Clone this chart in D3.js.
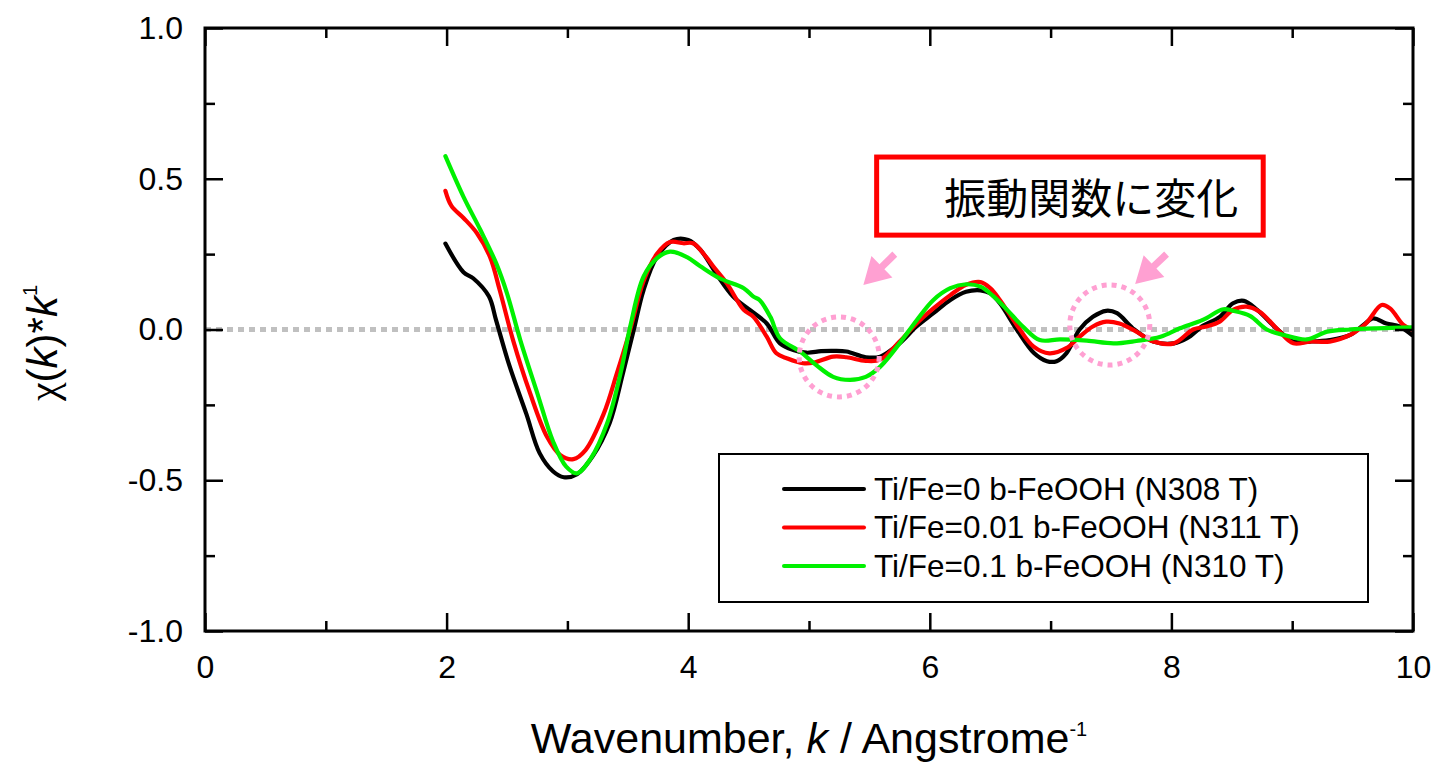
<!DOCTYPE html>
<html>
<head>
<meta charset="utf-8">
<script src="https://cdn.jsdelivr.net/npm/d3@7"></script>
<style>
  body { margin: 0; background: #fff; }
  svg { display: block; font-family: "Liberation Sans", Arial, sans-serif; }
</style>
</head>
<body>
<div id="chart"></div>
<script>
// data (k in 1/Angstrom, chi(k)*k)
var kBlack = [1.99, 2.14, 2.22, 2.35, 2.41, 2.52, 2.66, 2.77, 2.88, 2.97, 3.08, 3.21, 3.35, 3.46, 3.55, 3.63, 3.74, 3.88, 4.0,
  4.10, 4.24, 4.37, 4.51, 4.65, 4.76, 4.87, 4.98, 5.10, 5.20, 5.31, 5.47, 5.59, 5.75, 5.89, 6.03, 6.17, 6.30, 6.42, 6.50,
  6.58, 6.72, 6.86, 6.97, 7.05, 7.13, 7.24, 7.35, 7.46, 7.55, 7.68, 7.85, 8.02, 8.13, 8.26, 8.40, 8.51, 8.60, 8.71, 8.88,
  9.01, 9.15, 9.31, 9.48, 9.59, 9.67, 9.78, 9.89, 9.99];
var chiBlack = [0.285, 0.19, 0.17, 0.11, 0.03, -0.12, -0.28, -0.41, -0.47, -0.49, -0.48, -0.42, -0.31, -0.145, 0.0, 0.13, 0.24, 0.297, 0.297,
  0.265, 0.18, 0.11, 0.065, 0.02, -0.046, -0.068, -0.077, -0.072, -0.071, -0.073, -0.092, -0.09, -0.046, 0.01, 0.054, 0.098, 0.125, 0.13, 0.12,
  0.087, 0.0, -0.077, -0.105, -0.105, -0.079, 0.0, 0.042, 0.062, 0.054, 0.004, -0.04, -0.046, -0.029, 0.012, 0.042, 0.087, 0.095, 0.065, 0.0,
  -0.04, -0.04, -0.035, -0.018, 0.015, 0.037, 0.02, 0.01, -0.018];

var kRed = [1.99, 2.04, 2.14, 2.25, 2.36, 2.44, 2.55, 2.69, 2.83, 2.94, 3.05, 3.15, 3.30, 3.41, 3.52, 3.63, 3.74, 3.85, 3.96, 4.04,
  4.15, 4.21, 4.32, 4.46, 4.54, 4.65, 4.73, 4.82, 4.95, 5.04, 5.20, 5.31, 5.47, 5.59, 5.75, 5.89, 6.03, 6.17, 6.30, 6.42, 6.50,
  6.58, 6.72, 6.86, 6.99, 7.13, 7.24, 7.35, 7.46, 7.57, 7.71, 7.85, 8.02, 8.18, 8.29, 8.40, 8.51, 8.62, 8.73, 8.88,
  9.01, 9.15, 9.31, 9.48, 9.61, 9.74, 9.81, 9.92, 9.99];
var chiRed = [0.46, 0.41, 0.37, 0.32, 0.24, 0.13, -0.035, -0.21, -0.355, -0.416, -0.43, -0.40, -0.28, -0.145, 0.0, 0.16, 0.25, 0.29, 0.286, 0.286,
  0.24, 0.208, 0.153, 0.065, 0.042, -0.024, -0.079, -0.096, -0.112, -0.11, -0.09, -0.092, -0.104, -0.10, -0.04, 0.02, 0.07, 0.114, 0.148, 0.157, 0.137,
  0.098, 0.015, -0.057, -0.079, -0.062, -0.024, 0.01, 0.026, 0.02, -0.007, -0.04, -0.046, 0.0, 0.01, 0.026, 0.065, 0.076, 0.059, 0.0,
  -0.046, -0.04, -0.04, -0.018, 0.02, 0.081, 0.07, 0.015, 0.0];

var kGreen = [1.99, 2.14, 2.28, 2.41, 2.50, 2.61, 2.75, 2.88, 2.99, 3.08, 3.19, 3.33, 3.44, 3.52, 3.63, 3.74, 3.85, 3.99,
  4.10, 4.26, 4.46, 4.54, 4.59, 4.68, 4.76, 4.93, 5.06, 5.20, 5.34, 5.47, 5.59, 5.75, 5.89, 6.03, 6.17, 6.30, 6.42, 6.53,
  6.64, 6.77, 6.91, 7.08, 7.30, 7.52, 7.71, 7.91, 8.07, 8.26, 8.43, 8.51, 8.65, 8.79, 8.93, 9.12, 9.29, 9.48, 9.70, 9.99];
var chiGreen = [0.575, 0.44, 0.33, 0.22, 0.12, -0.035, -0.21, -0.37, -0.455, -0.477, -0.43, -0.31, -0.145, 0.01, 0.175, 0.236, 0.258, 0.24,
  0.21, 0.17, 0.137, 0.109, 0.098, 0.042, -0.029, -0.074, -0.118, -0.157, -0.167, -0.157, -0.123, -0.046, 0.03, 0.098, 0.137, 0.15, 0.142, 0.109,
  0.065, 0.01, -0.035, -0.033, -0.037, -0.046, -0.038, -0.024, 0.004, 0.032, 0.067, 0.062, 0.045, 0.0, -0.018, -0.033, -0.007, 0.0, 0.004, 0.007];

var seriesNames = ["Ti/Fe=0 b-FeOOH (N308 T)", "Ti/Fe=0.01 b-FeOOH (N311 T)", "Ti/Fe=0.1 b-FeOOH (N310 T)"];
var seriesColors = ["#000000", "#ff0000", "#00f000"];

var xMajor = [0, 2, 4, 6, 8, 10];
var xMinor = [1, 3, 5, 7, 9];
var yMajor = [-1.0, -0.5, 0.0, 0.5, 1.0];
var yMinor = [-0.75, -0.25, 0.25, 0.75];

// annotation: dotted circles (k, chi) and arrows (from -> to)
var rings = [[5.25, -0.091], [7.49, 0.015]];
var arrows = [[5.71, 0.25, 5.45, 0.148], [7.96, 0.25, 7.70, 0.151]];
var noteText = "振動関数に変化";

var width = 1437, height = 764;
var margin = {left: 205, top: 28, right: 24, bottom: 133};
var w = width - margin.left - margin.right,
    h = height - margin.top - margin.bottom;

var svg = d3.select("#chart").append("svg")
  .attr("width", width)
  .attr("height", height);

var g = svg.append("g").attr("transform", "translate(" + margin.left + "," + margin.top + ")");

var x = d3.scaleLinear().domain([0, 10]).range([0, w]);
var y = d3.scaleLinear().domain([-1, 1]).range([h, 0]);

// zero line
g.append("line")
  .attr("x1", x(0)).attr("x2", x(10))
  .attr("y1", y(0)).attr("y2", y(0))
  .attr("stroke", "#c0c0c0")
  .attr("stroke-width", 5)
  .attr("stroke-dasharray", "6,5");

// curves
var line = d3.line()
  .x(function(d) { return x(d[0]); })
  .y(function(d) { return y(d[1]); })
  .curve(d3.curveCatmullRom.alpha(0.5));

var series = [d3.zip(kBlack, chiBlack), d3.zip(kRed, chiRed), d3.zip(kGreen, chiGreen)];
series.forEach(function(s, i) {
  g.append("path")
    .datum(s)
    .attr("fill", "none")
    .attr("stroke", seriesColors[i])
    .attr("stroke-width", 4.2)
    .attr("stroke-linejoin", "round")
    .attr("stroke-linecap", "round")
    .attr("d", line);
});

// axes: ticks point inward on all four sides
function styleAxis(sel) {
  sel.select(".domain").remove();
  sel.selectAll(".tick line").attr("stroke", "#000").attr("stroke-width", 2.5);
  sel.selectAll("text").attr("fill", "#000").style("font-size", "32px")
    .style("font-family", "'Liberation Sans', Arial, sans-serif");
}
var fmtY = function(d) { return d.toFixed(1); };

g.append("g").attr("transform", "translate(0," + h + ")")
  .call(d3.axisBottom(x).tickValues(xMajor).tickSize(-18).tickPadding(24).tickFormat(d3.format("d")))
  .call(styleAxis);
g.append("g").attr("transform", "translate(0," + h + ")")
  .call(d3.axisBottom(x).tickValues(xMinor).tickSize(-10).tickFormat(""))
  .call(styleAxis);
g.append("g")
  .call(d3.axisTop(x).tickValues(xMajor).tickSize(-18).tickFormat(""))
  .call(styleAxis);
g.append("g")
  .call(d3.axisTop(x).tickValues(xMinor).tickSize(-10).tickFormat(""))
  .call(styleAxis);

g.append("g")
  .call(d3.axisLeft(y).tickValues(yMajor).tickSize(-18).tickPadding(22).tickFormat(fmtY))
  .call(styleAxis);
g.append("g")
  .call(d3.axisLeft(y).tickValues(yMinor).tickSize(-10).tickFormat(""))
  .call(styleAxis);
g.append("g").attr("transform", "translate(" + w + ",0)")
  .call(d3.axisRight(y).tickValues(yMajor).tickSize(-18).tickFormat(""))
  .call(styleAxis);
g.append("g").attr("transform", "translate(" + w + ",0)")
  .call(d3.axisRight(y).tickValues(yMinor).tickSize(-10).tickFormat(""))
  .call(styleAxis);

g.append("rect")
  .attr("width", w).attr("height", h)
  .attr("fill", "none")
  .attr("stroke", "#000")
  .attr("stroke-width", 3);

// annotation
var pink = "#ffa0d2";
g.selectAll(".ring").data(rings).enter().append("circle")
  .attr("cx", function(d) { return x(d[0]); })
  .attr("cy", function(d) { return y(d[1]); })
  .attr("r", 40)
  .attr("fill", "none")
  .attr("stroke", pink)
  .attr("stroke-width", 5)
  .attr("stroke-dasharray", "5,5");

g.selectAll(".arrow").data(arrows).enter().append("path")
  .attr("fill", pink)
  .attr("d", function(d) {
    var x0 = x(d[0]), y0 = y(d[1]), x1 = x(d[2]), y1 = y(d[3]);
    var dx = x1 - x0, dy = y1 - y0, len = Math.sqrt(dx * dx + dy * dy);
    var ux = dx / len, uy = dy / len, px = -uy, py = ux;
    var hl = 26, hw = 15, sw = 3.5;
    var bx = x1 - ux * hl, by = y1 - uy * hl;
    var p = [
      [x0 + px * sw, y0 + py * sw], [bx + px * sw, by + py * sw], [bx + px * hw, by + py * hw],
      [x1, y1],
      [bx - px * hw, by - py * hw], [bx - px * sw, by - py * sw], [x0 - px * sw, y0 - py * sw]
    ];
    return "M" + p.map(function(q) { return q[0] + "," + q[1]; }).join("L") + "Z";
  });

g.append("rect")
  .attr("x", x(5.56)).attr("y", y(0.572))
  .attr("width", x(8.76) - x(5.56)).attr("height", y(0.313) - y(0.572))
  .attr("fill", "#fff")
  .attr("stroke", "#ff0000")
  .attr("stroke-width", 5);
g.append("text")
  .attr("x", x(6.12)).attr("y", y(0.383))
  .style("font-family", "'Noto Sans CJK JP', sans-serif")
  .style("font-size", "42px")
  .attr("fill", "#000")
  .text(noteText);

// legend
var legend = svg.append("g");
legend.append("rect")
  .attr("x", 719).attr("y", 454).attr("width", 649).attr("height", 148)
  .attr("fill", "#fff").attr("stroke", "#000").attr("stroke-width", 2);
seriesNames.forEach(function(name, i) {
  var ly = 489 + i * 38.5;
  legend.append("line")
    .attr("x1", 784).attr("x2", 864).attr("y1", ly).attr("y2", ly)
    .attr("stroke", seriesColors[i]).attr("stroke-width", 4).attr("stroke-linecap", "round");
  legend.append("text")
    .attr("x", 874).attr("y", ly + 10.5)
    .style("font-size", "31.5px")
    .attr("fill", "#000")
    .text(name);
});

// axis titles
var xt = svg.append("text")
  .attr("x", margin.left + w / 2).attr("y", 753)
  .attr("text-anchor", "middle")
  .style("font-size", "43px");
xt.append("tspan").text("Wavenumber, ");
xt.append("tspan").style("font-style", "italic").text("k");
xt.append("tspan").text(" / Angstrome");
xt.append("tspan").attr("dy", -17).style("font-size", "20px").text("-1");

var yt = svg.append("text")
  .attr("transform", "translate(57," + 343 + ") rotate(-90)")
  .attr("text-anchor", "middle")
  .style("font-size", "42px");
yt.append("tspan").style("font-family", "'Liberation Serif', 'DejaVu Serif', serif").text("χ");
yt.append("tspan").text("(");
yt.append("tspan").style("font-style", "italic").text("k");
yt.append("tspan").text(")*");
yt.append("tspan").style("font-style", "italic").text("k");
yt.append("tspan").attr("dy", -20).style("font-size", "20px").text("1");
</script>
</body>
</html>
